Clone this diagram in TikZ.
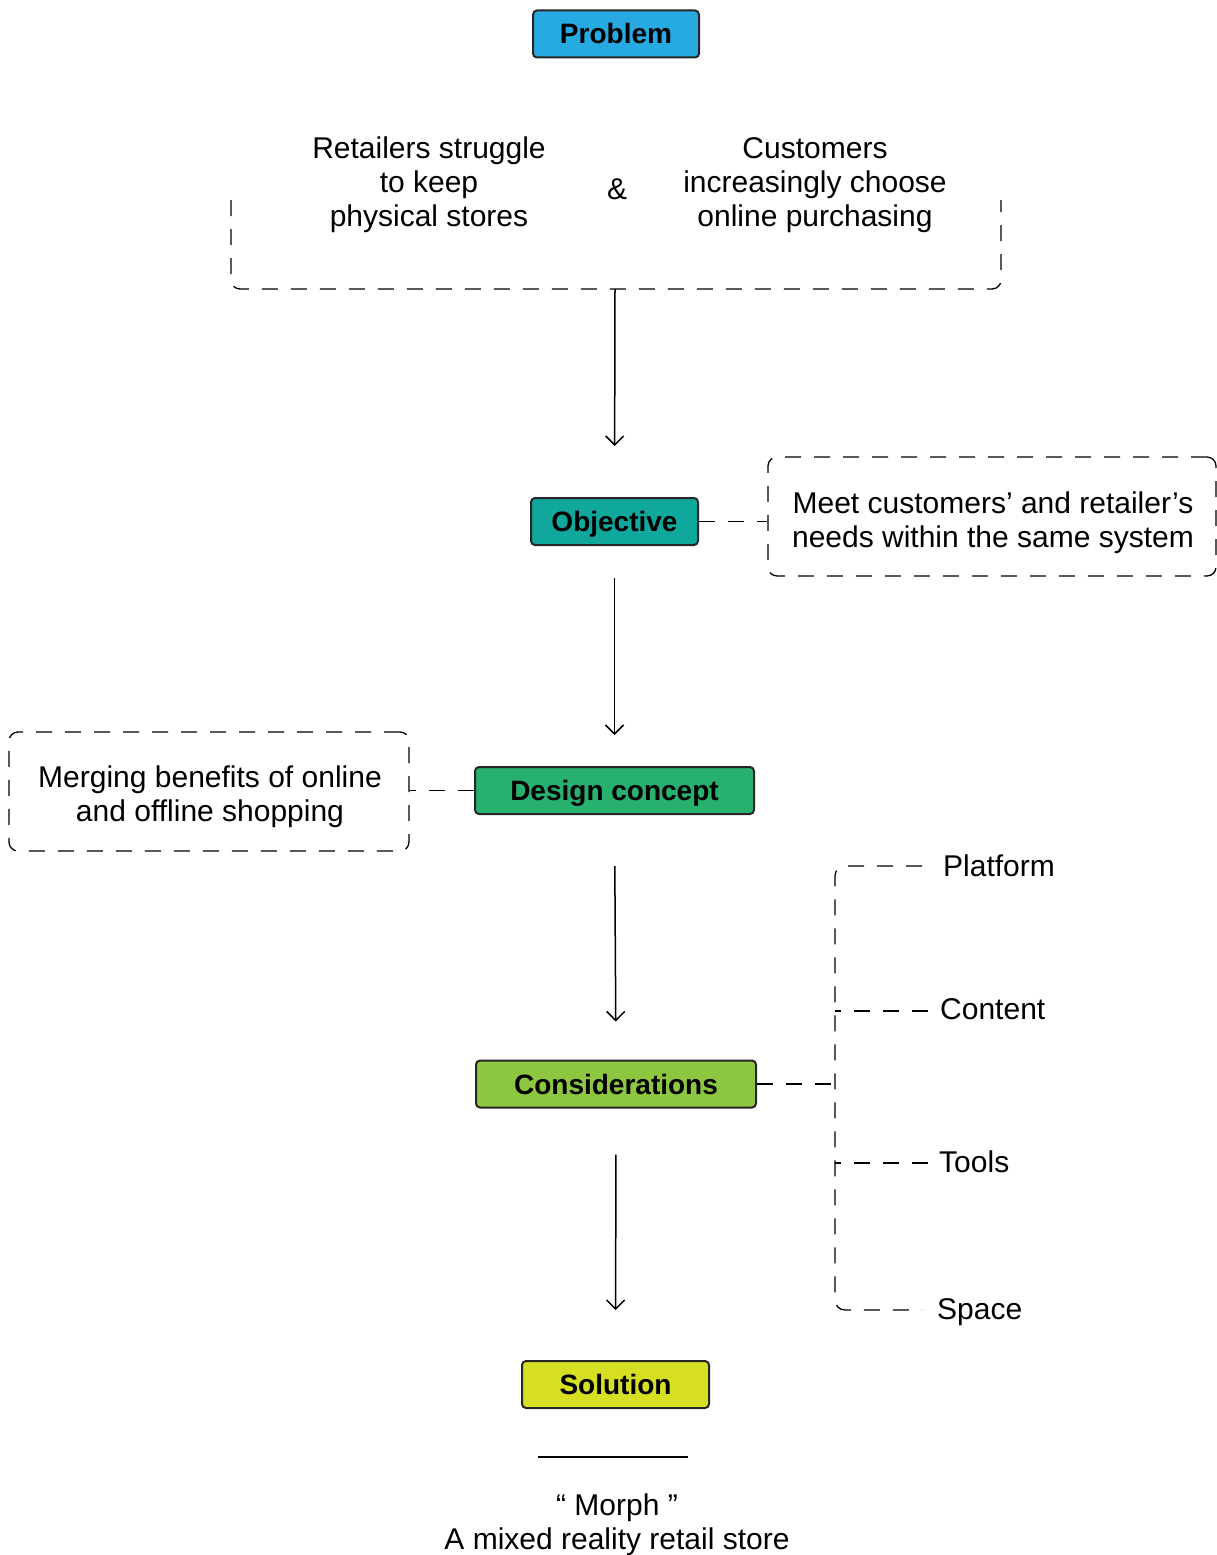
\documentclass[tikz,border=0pt]{standalone}
\usepackage{fontspec}
\setmainfont{Liberation Sans}
\usetikzlibrary{arrows.meta}
\definecolor{probblue}{HTML}{27A9E1}
\definecolor{objteal}{HTML}{10A89C}
\definecolor{desgreen}{HTML}{27B06E}
\definecolor{conlime}{HTML}{8DC63F}
\definecolor{solyellow}{HTML}{D7DF23}
\tikzset{
  stage/.style={draw=black!85, line width=2pt, rounded corners=4pt,
    minimum height=47pt, inner sep=0pt, text height=20pt, text depth=0pt,
    font=\bfseries\fontsize{28}{32}\selectfont},
  dashline/.style={line width=1.3pt, dash pattern=on 16pt off 13pt},
  notebox/.style={draw, dashline, rounded corners=9pt, inner sep=0pt},
  note/.style={align=center, font=\fontsize{30}{34}\selectfont, inner sep=0pt},
  flow/.style={line width=1.5pt, -{Straight Barb[length=9pt,width=18pt,line width=1.5pt]}},
  item/.style={anchor=west, inner sep=0pt, font=\fontsize{30}{34}\selectfont},
}
\begin{document}
\begin{tikzpicture}[x=1pt,y=-1pt]
\useasboundingbox (0,0) rectangle (1217,1555);

% stage boxes
\node[stage, fill=probblue, minimum width=166pt] (problem) at (616,34) {Problem};
\node[stage, fill=objteal, minimum width=167pt] (objective) at (614.5,521.5) {Objective};
\node[stage, fill=desgreen, minimum width=279pt] (design) at (614.5,790.5) {Design concept};
\node[stage, fill=conlime, minimum width=280pt] (consid) at (616,1084) {Considerations};
\node[stage, fill=solyellow, minimum width=187pt] (solution) at (615.5,1384.5) {Solution};

% problem statements
\node[note] (retail) at (429,185) {Retailers struggle\\to keep\\physical stores};
\node[note] (amp) at (617,189) {\&};
\node[note] (cust) at (815,185) {Customers\\increasingly choose\\online purchasing};
\draw[dashline, rounded corners=9pt] (231,200) -- (231,289) -- (1001,289) -- (1001,200);
\coordinate (pbot) at (615,289);

% objective note
\node[notebox, minimum width=448pt, minimum height=119pt] (objnote) at (992,516.5) {};
\node[note] (objtext) at (993,523) {Meet customers’ and retailer’s\\needs within the same system};
\draw[dashline] (objective.east) -- (objective.east -| objnote.west);

% design concept note
\node[notebox, minimum width=400pt, minimum height=119pt] (desnote) at (209,791.5) {};
\node[note] (destext) at (210,797) {Merging benefits of online\\and offline shopping};
\draw[dashline] (design.west) -- (design.west -| desnote.east);

% considerations list
\node[item] (platform) at (943,866) {Platform};
\node[item] (content) at (940,1009) {Content};
\node[item] (tools) at (939,1162) {Tools};
\node[item] (space) at (937,1312) {Space};
\coordinate (spinetop) at (835,866);
\coordinate (spinebot) at (835,1310);
\coordinate (jcontent) at (835,1011);
\coordinate (jtools) at (835,1163);
\coordinate (jcons) at (835,1084);
\coordinate (platformend) at ([xshift=-21pt]platform.west);
\coordinate (contentend) at ([xshift=-12pt]content.west);
\coordinate (toolsend) at ([xshift=-11pt]tools.west);
\coordinate (spaceend) at ([xshift=-15pt]space.west);
\draw[dashline, rounded corners=10pt] (spinetop -| platformend) -- (spinetop) -- (spinebot) -- (spinebot -| spaceend);
\draw[dashline] (jcontent -| contentend) -- (jcontent);
\draw[dashline] (jtools -| toolsend) -- (jtools);
\draw[dashline] (consid.east) -- (jcons);

% main flow
\draw[flow, shorten >=51pt] (pbot) -- (objective.north);
\draw[flow, shorten <=32pt, shorten >=31pt] (objective.south) -- (design.north);
\draw[flow, shorten <=51pt, shorten >=38pt] (design.south) -- (consid.north);
\draw[flow, shorten <=46pt, shorten >=50pt] (consid.south) -- (solution.north);

% solution
\coordinate (ruleL) at (538,1457);
\coordinate (ruleR) at (688,1457);
\draw[line width=2pt] (ruleL) -- (ruleR);
\node[note] (morph) at (617,1525) {“ Morph ”\\A mixed reality retail store};
\end{tikzpicture}
\end{document}
